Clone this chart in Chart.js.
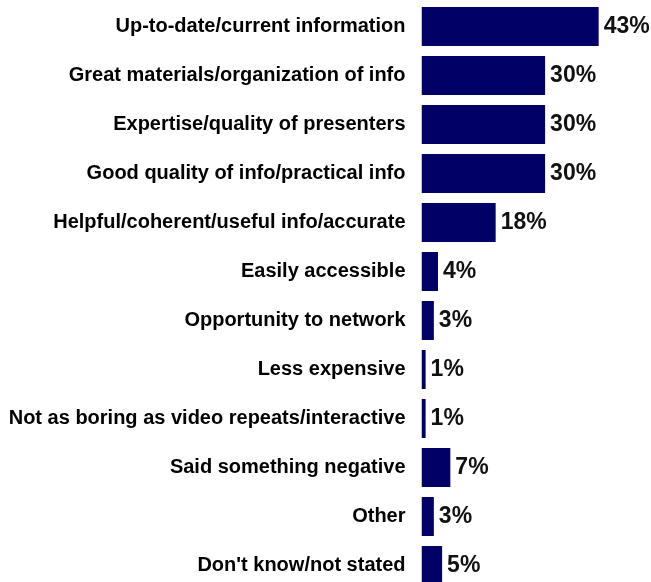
<!DOCTYPE html>
<html>
<head>
<meta charset="utf-8">
<script src="https://cdn.jsdelivr.net/npm/chart.js@4"></script>
<style>
  html, body { margin: 0; padding: 0; background: #ffffff; overflow: hidden; }
  canvas { display: block; }
</style>
</head>
<body>
<canvas id="chart" width="651" height="590"></canvas>
<script>
// Reasons given, top to bottom
const categories = [
  "Up-to-date/current information",
  "Great materials/organization of info",
  "Expertise/quality of presenters",
  "Good quality of info/practical info",
  "Helpful/coherent/useful info/accurate",
  "Easily accessible",
  "Opportunity to network",
  "Less expensive",
  "Not as boring as video repeats/interactive",
  "Said something negative",
  "Other",
  "Don't know/not stated"
];

// Share of respondents (%)
const percentages = [43, 30, 30, 30, 18, 4, 3, 1, 1, 7, 3, 5];

const BAR_COLOR = "#000066";
const FONT_FAMILY = "'Liberation Sans', Arial, sans-serif";

// Writes the percentage just past the end of each bar
const valueLabels = {
  id: "valueLabels",
  afterDatasetsDraw(chart) {
    const ctx = chart.ctx;
    const meta = chart.getDatasetMeta(0);
    ctx.save();
    ctx.font = "bold 23px " + FONT_FAMILY;
    ctx.fillStyle = "#111111";
    ctx.textAlign = "left";
    ctx.textBaseline = "middle";
    meta.data.forEach((bar, i) => {
      ctx.fillText(percentages[i] + "%", bar.x + 5, bar.y);
    });
    ctx.restore();
  }
};

new Chart(document.getElementById("chart"), {
  type: "bar",
  data: {
    labels: categories,
    datasets: [{
      data: percentages,
      backgroundColor: BAR_COLOR,
      borderWidth: 0,
      categoryPercentage: 1.0,
      barPercentage: 0.8
    }]
  },
  options: {
    indexAxis: "y",
    responsive: false,
    animation: false,
    devicePixelRatio: 1,
    layout: { padding: { top: 2, right: 23.5, bottom: 0, left: 0 } },
    plugins: {
      legend: { display: false },
      tooltip: { enabled: false }
    },
    scales: {
      x: {
        display: false,
        min: 0,
        max: 50
      },
      y: {
        grid: { display: false, drawTicks: false },
        border: { display: false },
        ticks: {
          padding: 16,
          color: "#000000",
          font: { family: FONT_FAMILY, size: 20, weight: "bold" }
        },
        afterFit(scale) {
          // fixed label column; rows fill the full height
          scale.width = 421.5;
          scale.paddingTop = 0;
          scale.paddingBottom = 0;
        }
      }
    }
  },
  plugins: [valueLabels]
});
</script>
</body>
</html>
